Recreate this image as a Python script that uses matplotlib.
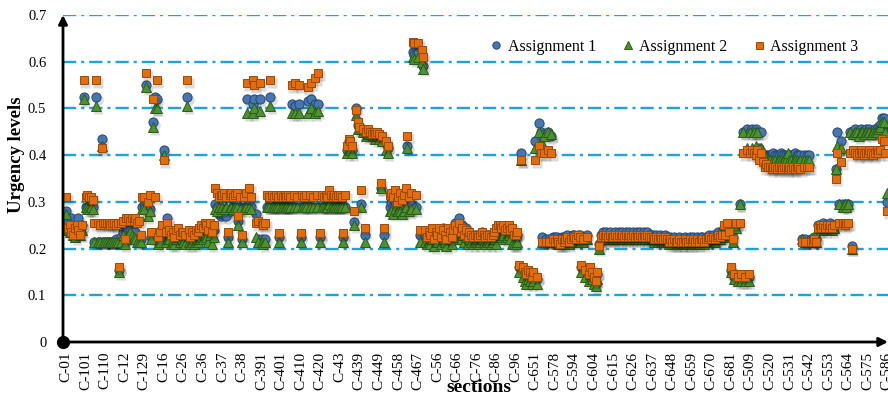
import matplotlib
matplotlib.use("Agg")
import matplotlib.pyplot as plt
from matplotlib import transforms
from matplotlib.lines import Line2D
import numpy as np

# Section labels shown on the axis (one every `label_step` sections)
tick_labels = [
    "C-01", "C-101", "C-110", "C-12", "C-129", "C-16", "C-26", "C-36", "C-37",
    "C-38", "C-391", "C-401", "C-410", "C-420", "C-43", "C-439", "C-449",
    "C-458", "C-467", "C-56", "C-66", "C-76", "C-86", "C-96", "C-651", "C-578",
    "C-594", "C-604", "C-615", "C-626", "C-637", "C-648", "C-659", "C-670",
    "C-681", "C-509", "C-520", "C-531", "C-542", "C-553", "C-564", "C-575",
    "C-586",
]
label_step = 11

series_names = ["Assignment 1", "Assignment 2", "Assignment 3"]

# Urgency level of every section, one row per labelled group of 11 sections
assignment_1 = [
    0.28, 0.26, 0.245, 0.265, 0.24, 0.235, 0.245, 0.265, 0.24, 0.25, 0.525,
    0.29, 0.29, 0.285, 0.29, 0.29, 0.215, 0.525, 0.215, 0.215, 0.435, 0.215,
    0.215, 0.215, 0.215, 0.215, 0.215, 0.215, 0.22, 0.215, 0.155, 0.225, 0.235,
    0.215, 0.235, 0.24, 0.24, 0.235, 0.23, 0.235, 0.22, 0.215, 0.22, 0.29,
    0.295, 0.55, 0.28, 0.285, 0.225, 0.47, 0.525, 0.52, 0.215, 0.22, 0.245,
    0.41, 0.225, 0.265, 0.23, 0.225, 0.23, 0.22, 0.235, 0.24, 0.225, 0.23,
    0.225, 0.22, 0.525, 0.23, 0.215, 0.225, 0.22, 0.23, 0.225, 0.235, 0.24,
    0.235, 0.245, 0.24, 0.23, 0.245, 0.225, 0.24, 0.295, 0.29, 0.275, 0.27,
    0.275, 0.28, 0.27, 0.225, 0.28, 0.285, 0.29, 0.29, 0.28, 0.26, 0.29,
    0.22, 0.29, 0.29, 0.52, 0.3, 0.29, 0.51, 0.52, 0.275, 0.22, 0.52,
    0.22, 0.215, 0.22, 0.29, 0.29, 0.525, 0.29, 0.29, 0.29, 0.29, 0.225,
    0.29, 0.29, 0.29, 0.29, 0.29, 0.29, 0.51, 0.29, 0.505, 0.29, 0.51,
    0.225, 0.29, 0.29, 0.29, 0.515, 0.29, 0.52, 0.29, 0.51, 0.29, 0.51,
    0.225, 0.29, 0.29, 0.29, 0.29, 0.3, 0.29, 0.29, 0.29, 0.3, 0.29,
    0.29, 0.29, 0.225, 0.29, 0.41, 0.43, 0.42, 0.41, 0.257, 0.5, 0.465,
    0.46, 0.295, 0.455, 0.23, 0.445, 0.45, 0.45, 0.445, 0.445, 0.44, 0.445,
    0.44, 0.33, 0.435, 0.23, 0.425, 0.415, 0.29, 0.3, 0.29, 0.3, 0.285,
    0.29, 0.29, 0.28, 0.29, 0.3, 0.42, 0.285, 0.295, 0.62, 0.615, 0.29,
    0.62, 0.23, 0.61, 0.59, 0.23, 0.22, 0.23, 0.225, 0.235, 0.215, 0.225,
    0.235, 0.24, 0.225, 0.245, 0.235, 0.22, 0.24, 0.24, 0.225, 0.245, 0.255,
    0.25, 0.265, 0.24, 0.25, 0.235, 0.245, 0.225, 0.235, 0.23, 0.225, 0.23,
    0.23, 0.225, 0.23, 0.235, 0.23, 0.225, 0.23, 0.23, 0.225, 0.23, 0.235,
    0.235, 0.245, 0.245, 0.24, 0.245, 0.235, 0.24, 0.245, 0.235, 0.24, 0.225,
    0.225, 0.23, 0.16, 0.404, 0.155, 0.145, 0.14, 0.15, 0.145, 0.135, 0.145,
    0.43, 0.135, 0.468, 0.45, 0.225, 0.445, 0.22, 0.45, 0.22, 0.44, 0.225,
    0.225, 0.225, 0.22, 0.22, 0.225, 0.225, 0.225, 0.23, 0.22, 0.225, 0.23,
    0.23, 0.225, 0.23, 0.23, 0.16, 0.225, 0.15, 0.23, 0.14, 0.155, 0.145,
    0.135, 0.125, 0.145, 0.21, 0.23, 0.235, 0.23, 0.235, 0.23, 0.235, 0.23,
    0.23, 0.235, 0.23, 0.235, 0.23, 0.235, 0.23, 0.235, 0.23, 0.235, 0.23,
    0.235, 0.23, 0.235, 0.23, 0.235, 0.23, 0.235, 0.23, 0.235, 0.23, 0.23,
    0.23, 0.225, 0.23, 0.225, 0.23, 0.225, 0.225, 0.23, 0.225, 0.22, 0.225,
    0.22, 0.225, 0.22, 0.22, 0.225, 0.22, 0.22, 0.225, 0.22, 0.22, 0.225,
    0.22, 0.225, 0.22, 0.225, 0.22, 0.225, 0.225, 0.22, 0.225, 0.225, 0.23,
    0.225, 0.23, 0.225, 0.23, 0.235, 0.23, 0.235, 0.245, 0.235, 0.25, 0.24,
    0.155, 0.225, 0.14, 0.25, 0.135, 0.295, 0.14, 0.45, 0.135, 0.455, 0.14,
    0.45, 0.455, 0.45, 0.455, 0.45, 0.415, 0.45, 0.4, 0.4, 0.4, 0.4,
    0.4, 0.4, 0.405, 0.4, 0.4, 0.4, 0.405, 0.4, 0.4, 0.4, 0.4,
    0.4, 0.4, 0.4, 0.405, 0.4, 0.4, 0.4, 0.22, 0.4, 0.22, 0.4,
    0.4, 0.22, 0.22, 0.225, 0.22, 0.25, 0.25, 0.25, 0.255, 0.25, 0.25,
    0.25, 0.255, 0.25, 0.25, 0.37, 0.45, 0.295, 0.43, 0.295, 0.29, 0.295,
    0.295, 0.45, 0.205, 0.45, 0.455, 0.45, 0.45, 0.455, 0.45, 0.45, 0.455,
    0.45, 0.455, 0.45, 0.45, 0.455, 0.45, 0.46, 0.465, 0.48, 0.48, 0.45,
    0.3,
]

assignment_2 = [
    0.275, 0.24, 0.235, 0.25, 0.23, 0.225, 0.235, 0.25, 0.23, 0.24, 0.52,
    0.29, 0.285, 0.285, 0.29, 0.285, 0.215, 0.505, 0.215, 0.215, 0.42, 0.215,
    0.215, 0.215, 0.215, 0.215, 0.215, 0.215, 0.215, 0.215, 0.15, 0.215, 0.23,
    0.21, 0.225, 0.23, 0.235, 0.23, 0.225, 0.22, 0.215, 0.215, 0.215, 0.285,
    0.285, 0.545, 0.27, 0.28, 0.22, 0.46, 0.5, 0.5, 0.21, 0.215, 0.24,
    0.4, 0.215, 0.25, 0.22, 0.21, 0.215, 0.21, 0.22, 0.225, 0.215, 0.22,
    0.215, 0.21, 0.505, 0.215, 0.21, 0.215, 0.21, 0.215, 0.215, 0.22, 0.225,
    0.22, 0.23, 0.225, 0.215, 0.23, 0.21, 0.225, 0.285, 0.28, 0.29, 0.285,
    0.29, 0.285, 0.29, 0.215, 0.29, 0.29, 0.285, 0.29, 0.29, 0.25, 0.285,
    0.215, 0.285, 0.29, 0.49, 0.29, 0.285, 0.49, 0.5, 0.225, 0.215, 0.495,
    0.215, 0.21, 0.215, 0.29, 0.29, 0.505, 0.29, 0.29, 0.29, 0.29, 0.215,
    0.29, 0.29, 0.29, 0.29, 0.29, 0.29, 0.49, 0.29, 0.49, 0.29, 0.49,
    0.215, 0.29, 0.29, 0.29, 0.49, 0.29, 0.5, 0.29, 0.49, 0.29, 0.495,
    0.215, 0.29, 0.29, 0.29, 0.29, 0.295, 0.29, 0.29, 0.29, 0.29, 0.29,
    0.29, 0.29, 0.215, 0.29, 0.405, 0.41, 0.41, 0.405, 0.25, 0.485, 0.455,
    0.455, 0.29, 0.45, 0.215, 0.44, 0.445, 0.445, 0.44, 0.44, 0.435, 0.44,
    0.435, 0.33, 0.43, 0.215, 0.41, 0.405, 0.28, 0.28, 0.275, 0.285, 0.28,
    0.28, 0.28, 0.275, 0.28, 0.29, 0.415, 0.28, 0.285, 0.61, 0.605, 0.285,
    0.61, 0.215, 0.6, 0.585, 0.215, 0.21, 0.215, 0.21, 0.22, 0.205, 0.215,
    0.215, 0.225, 0.21, 0.22, 0.215, 0.205, 0.225, 0.22, 0.21, 0.225, 0.235,
    0.225, 0.24, 0.22, 0.23, 0.215, 0.225, 0.21, 0.22, 0.215, 0.21, 0.215,
    0.215, 0.21, 0.215, 0.22, 0.215, 0.21, 0.215, 0.215, 0.21, 0.215, 0.22,
    0.21, 0.225, 0.23, 0.225, 0.23, 0.22, 0.225, 0.23, 0.22, 0.21, 0.21,
    0.21, 0.215, 0.15, 0.39, 0.14, 0.13, 0.125, 0.135, 0.13, 0.125, 0.13,
    0.415, 0.125, 0.45, 0.43, 0.215, 0.44, 0.215, 0.45, 0.215, 0.445, 0.215,
    0.215, 0.215, 0.21, 0.21, 0.215, 0.21, 0.215, 0.22, 0.21, 0.215, 0.22,
    0.22, 0.215, 0.22, 0.215, 0.15, 0.215, 0.14, 0.22, 0.13, 0.145, 0.135,
    0.125, 0.12, 0.135, 0.2, 0.22, 0.225, 0.22, 0.225, 0.22, 0.225, 0.22,
    0.22, 0.225, 0.22, 0.225, 0.22, 0.225, 0.22, 0.225, 0.22, 0.225, 0.22,
    0.225, 0.22, 0.225, 0.22, 0.225, 0.22, 0.225, 0.22, 0.225, 0.22, 0.22,
    0.22, 0.215, 0.22, 0.215, 0.22, 0.215, 0.215, 0.22, 0.215, 0.21, 0.215,
    0.21, 0.215, 0.21, 0.21, 0.215, 0.21, 0.21, 0.215, 0.21, 0.21, 0.215,
    0.21, 0.215, 0.21, 0.215, 0.21, 0.215, 0.215, 0.21, 0.215, 0.215, 0.22,
    0.215, 0.22, 0.215, 0.22, 0.225, 0.22, 0.225, 0.24, 0.225, 0.245, 0.23,
    0.15, 0.215, 0.135, 0.245, 0.13, 0.295, 0.13, 0.45, 0.13, 0.415, 0.13,
    0.45, 0.415, 0.45, 0.42, 0.45, 0.41, 0.415, 0.395, 0.39, 0.395, 0.39,
    0.39, 0.385, 0.39, 0.39, 0.385, 0.39, 0.39, 0.385, 0.39, 0.39, 0.405,
    0.39, 0.39, 0.385, 0.39, 0.39, 0.385, 0.39, 0.22, 0.39, 0.215, 0.39,
    0.39, 0.22, 0.215, 0.22, 0.215, 0.24, 0.245, 0.24, 0.245, 0.24, 0.245,
    0.245, 0.245, 0.24, 0.245, 0.37, 0.42, 0.295, 0.415, 0.29, 0.295, 0.29,
    0.295, 0.45, 0.2, 0.445, 0.45, 0.45, 0.44, 0.45, 0.45, 0.445, 0.45,
    0.45, 0.45, 0.445, 0.45, 0.45, 0.45, 0.455, 0.46, 0.47, 0.47, 0.45,
    0.32,
]

assignment_3 = [
    0.31, 0.245, 0.25, 0.235, 0.23, 0.245, 0.25, 0.24, 0.23, 0.25, 0.56,
    0.31, 0.315, 0.31, 0.31, 0.305, 0.255, 0.56, 0.255, 0.25, 0.415, 0.255,
    0.255, 0.255, 0.255, 0.25, 0.255, 0.255, 0.25, 0.255, 0.16, 0.255, 0.26,
    0.22, 0.265, 0.265, 0.26, 0.265, 0.26, 0.265, 0.255, 0.26, 0.23, 0.31,
    0.31, 0.575, 0.3, 0.315, 0.235, 0.52, 0.31, 0.56, 0.225, 0.235, 0.25,
    0.39, 0.235, 0.255, 0.24, 0.23, 0.235, 0.225, 0.24, 0.245, 0.23, 0.235,
    0.235, 0.23, 0.56, 0.24, 0.225, 0.235, 0.23, 0.24, 0.235, 0.245, 0.25,
    0.245, 0.255, 0.25, 0.24, 0.255, 0.235, 0.25, 0.33, 0.32, 0.31, 0.315,
    0.315, 0.32, 0.31, 0.235, 0.315, 0.32, 0.31, 0.315, 0.32, 0.27, 0.31,
    0.23, 0.31, 0.32, 0.555, 0.33, 0.31, 0.56, 0.55, 0.255, 0.26, 0.555,
    0.255, 0.25, 0.255, 0.315, 0.31, 0.56, 0.315, 0.31, 0.315, 0.31, 0.233,
    0.315, 0.31, 0.315, 0.31, 0.315, 0.31, 0.55, 0.315, 0.555, 0.31, 0.55,
    0.233, 0.315, 0.31, 0.315, 0.545, 0.315, 0.555, 0.31, 0.565, 0.315, 0.576,
    0.233, 0.315, 0.31, 0.315, 0.31, 0.325, 0.315, 0.31, 0.315, 0.31, 0.315,
    0.315, 0.31, 0.233, 0.315, 0.42, 0.435, 0.43, 0.42, 0.28, 0.497, 0.47,
    0.46, 0.325, 0.455, 0.245, 0.45, 0.455, 0.45, 0.445, 0.45, 0.445, 0.45,
    0.445, 0.34, 0.44, 0.245, 0.43, 0.42, 0.315, 0.32, 0.31, 0.325, 0.3,
    0.31, 0.32, 0.305, 0.315, 0.33, 0.44, 0.31, 0.32, 0.642, 0.64, 0.315,
    0.64, 0.24, 0.625, 0.61, 0.24, 0.225, 0.235, 0.23, 0.245, 0.22, 0.235,
    0.23, 0.245, 0.225, 0.24, 0.23, 0.22, 0.245, 0.235, 0.225, 0.24, 0.25,
    0.24, 0.255, 0.235, 0.245, 0.23, 0.24, 0.225, 0.235, 0.23, 0.225, 0.23,
    0.23, 0.225, 0.23, 0.235, 0.23, 0.225, 0.23, 0.23, 0.225, 0.23, 0.235,
    0.245, 0.25, 0.25, 0.245, 0.25, 0.24, 0.245, 0.25, 0.24, 0.245, 0.23,
    0.23, 0.235, 0.165, 0.39, 0.16, 0.15, 0.145, 0.155, 0.15, 0.14, 0.15,
    0.39, 0.14, 0.42, 0.405, 0.215, 0.405, 0.215, 0.41, 0.215, 0.405, 0.22,
    0.215, 0.22, 0.215, 0.21, 0.22, 0.215, 0.22, 0.225, 0.215, 0.22, 0.225,
    0.225, 0.22, 0.23, 0.225, 0.165, 0.22, 0.155, 0.225, 0.145, 0.16, 0.15,
    0.14, 0.13, 0.15, 0.205, 0.225, 0.23, 0.225, 0.23, 0.225, 0.23, 0.225,
    0.225, 0.23, 0.225, 0.23, 0.225, 0.23, 0.225, 0.23, 0.225, 0.23, 0.225,
    0.23, 0.225, 0.23, 0.225, 0.23, 0.225, 0.23, 0.225, 0.23, 0.225, 0.225,
    0.225, 0.22, 0.225, 0.22, 0.225, 0.22, 0.22, 0.225, 0.22, 0.215, 0.22,
    0.215, 0.22, 0.215, 0.215, 0.22, 0.215, 0.215, 0.22, 0.215, 0.215, 0.22,
    0.215, 0.22, 0.215, 0.22, 0.215, 0.22, 0.22, 0.215, 0.22, 0.22, 0.225,
    0.22, 0.225, 0.22, 0.225, 0.23, 0.225, 0.23, 0.25, 0.23, 0.255, 0.235,
    0.16, 0.22, 0.145, 0.255, 0.14, 0.255, 0.145, 0.405, 0.14, 0.41, 0.145,
    0.405, 0.41, 0.405, 0.4, 0.41, 0.39, 0.405, 0.385, 0.375, 0.38, 0.375,
    0.375, 0.37, 0.375, 0.375, 0.37, 0.375, 0.375, 0.37, 0.375, 0.375, 0.37,
    0.375, 0.37, 0.375, 0.37, 0.375, 0.375, 0.37, 0.215, 0.375, 0.215, 0.375,
    0.375, 0.215, 0.215, 0.22, 0.215, 0.245, 0.25, 0.245, 0.25, 0.245, 0.25,
    0.245, 0.25, 0.245, 0.25, 0.35, 0.405, 0.255, 0.385, 0.255, 0.25, 0.255,
    0.255, 0.405, 0.2, 0.41, 0.405, 0.4, 0.405, 0.41, 0.405, 0.4, 0.405,
    0.405, 0.41, 0.405, 0.4, 0.405, 0.41, 0.405, 0.41, 0.435, 0.43, 0.405,
    0.28,
]

y_ticks = [0, 0.1, 0.2, 0.3, 0.4, 0.5, 0.6, 0.7]
y_tick_labels = ["0", "0.1", "0.2", "0.3", "0.4", "0.5", "0.6", "0.7"]

plt.rcParams["font.family"] = ["Liberation Serif", "DejaVu Serif"]
plt.rcParams["lines.scale_dashes"] = False

W, H = 888, 396
fig = plt.figure(figsize=(W / 100, H / 100), dpi=100)
ax = fig.add_axes([63 / W, (H - 342) / H, 825 / W, 327 / H])

x = np.arange(len(assignment_1))
ax.set_xlim(-1.69, 462.45)
ax.set_ylim(0, 0.7)

# dash-dot horizontal grid
grid_color = "#1AA3DF"
for yv in y_ticks[1:]:
    ax.axhline(yv, color=grid_color, lw=1.7,
               linestyle=(0, (9.5, 3.6, 2.2, 3.6)), zorder=1)

styles = [
    dict(marker="o", ms=6.6, mfc="#4677B2", mec="#25466E", mew=0.7),
    dict(marker="^", ms=6.9, mfc="#4C9231", mec="#2A5B19", mew=0.7),
    dict(marker="s", ms=6.3, mfc="#E36C0C", mec="#9C4904", mew=0.7),
]
series = [assignment_1, assignment_2, assignment_3]

# soft drop shadow under every marker
shadow = ax.transData + transforms.ScaledTranslation(1.2 / 72, -2.0 / 72,
                                                     fig.dpi_scale_trans)
for k, (vals, st) in enumerate(zip(series, styles)):
    ax.plot(x, vals, linestyle="none", marker=st["marker"], ms=st["ms"] + 1.0,
            mfc="#000000", mec="none", alpha=0.14, transform=shadow,
            zorder=2 + 2 * k)
    ax.plot(x, vals, linestyle="none", zorder=3 + 2 * k, **st)

# axes lines with arrow heads
for s in ax.spines.values():
    s.set_visible(False)
ax.annotate("", xy=(0, 1.0), xytext=(0, 0), xycoords="axes fraction",
            arrowprops=dict(arrowstyle="-|>", lw=2, color="black",
                            mutation_scale=13, shrinkA=0, shrinkB=0),
            zorder=20, annotation_clip=False)
ax.annotate("", xy=(1.0, 0), xytext=(0, 0), xycoords="axes fraction",
            arrowprops=dict(arrowstyle="-|>", lw=2, color="black",
                            mutation_scale=13, shrinkA=0, shrinkB=0),
            zorder=20, annotation_clip=False)
ax.plot([0], [0], "o", ms=8.5, color="black", transform=ax.transAxes,
        clip_on=False, zorder=21)

ax.set_yticks(y_ticks)
ax.set_yticklabels(y_tick_labels, fontsize=10.5)
ax.set_xticks(np.arange(len(tick_labels)) * label_step)
ax.set_xticklabels(tick_labels, rotation=90, fontsize=11)
ax.tick_params(axis="y", length=0, pad=12)
ax.tick_params(axis="x", length=0, pad=7)

fig.text(17 / W, 1 - 155 / H, "Urgency levels", rotation=90, ha="center",
         va="center", fontsize=13.5, fontweight="bold")
fig.text(479 / W, 1 - 387 / H, "sections", ha="center", va="center",
         fontsize=14, fontweight="bold")

handles = [Line2D([], [], linestyle="none", **dict(st, ms=st["ms"] * 0.8))
           for st in styles]
fig.legend(handles, series_names, loc="center left",
           bbox_to_anchor=(490 / W, 1 - 47 / H), ncol=3, frameon=False,
           fontsize=11.5, handlelength=0.8, handletextpad=0.3,
           columnspacing=1.6, borderpad=0, borderaxespad=0)

fig.savefig("out.png", dpi=100)
